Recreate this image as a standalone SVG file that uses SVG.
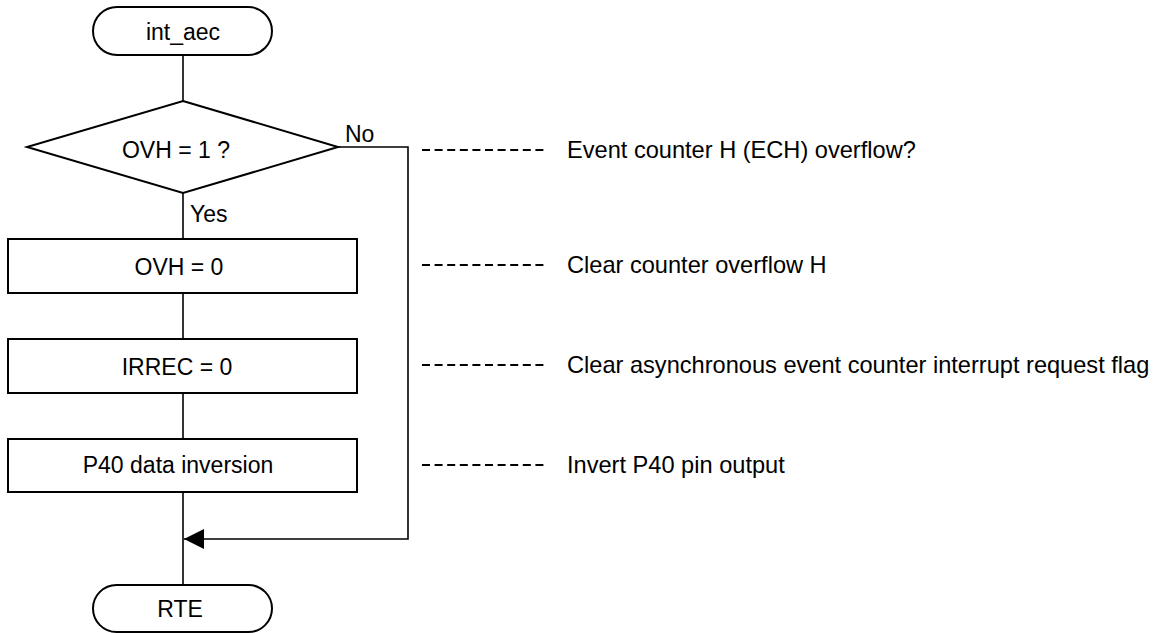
<svg xmlns="http://www.w3.org/2000/svg" width="1165" height="633" viewBox="0 0 1165 633">
<style>
.s{fill:#fff;stroke:#000;stroke-width:2}
.c{fill:none;stroke:#000;stroke-width:1.6}
.d{fill:none;stroke:#000;stroke-width:2;stroke-dasharray:8 4.6}
text{font-family:"Liberation Sans",Arial,sans-serif;font-size:23px;fill:#000}
.m{text-anchor:middle}
.n{font-size:23.6px}
</style>
<defs>
<marker id="ah" markerWidth="20" markerHeight="20" refX="20" refY="10" orient="auto" markerUnits="userSpaceOnUse">
<path d="M0,0 L20,10 L0,20 Z" fill="#000"/>
</marker>
</defs>
<rect width="1165" height="633" fill="#fff"/>
<g id="connectors">
<line class="c" x1="183" y1="55" x2="183" y2="101"/>
<line class="c" x1="183" y1="193" x2="183" y2="239"/>
<line class="c" x1="183" y1="293" x2="183" y2="339"/>
<line class="c" x1="183" y1="393" x2="183" y2="439"/>
<line class="c" x1="183" y1="492" x2="183" y2="585"/>
<polyline class="c" points="338,147 408,147 408,539 184,539" marker-end="url(#ah)"/>
<text x="345" y="142">No</text>
<text x="190" y="222">Yes</text>
</g>
<g id="start">
<rect class="s" x="93" y="7" width="179" height="48" rx="24"/>
<text class="m" x="183" y="40">int_aec</text>
</g>
<g id="decision">
<polygon class="s" points="183,101 338,147 183,193 27,147"/>
<text class="m" x="176" y="158">OVH = 1 ?</text>
</g>
<g id="ovh0">
<rect class="s" x="8" y="239" width="349" height="54"/>
<text class="m" x="179" y="275">OVH = 0</text>
</g>
<g id="irrec0">
<rect class="s" x="8" y="339" width="349" height="54"/>
<text class="m" x="177" y="375">IRREC = 0</text>
</g>
<g id="p40">
<rect class="s" x="8" y="439" width="349" height="53"/>
<text class="m" x="178" y="473">P40 data inversion</text>
</g>
<g id="end">
<rect class="s" x="93" y="585" width="179" height="47" rx="23.5"/>
<text class="m" x="180" y="617">RTE</text>
</g>
<g id="notes">
<line class="d" x1="422" y1="150" x2="547" y2="150"/>
<text class="n" x="567" y="158">Event counter H (ECH) overflow?</text>
<line class="d" x1="422" y1="265" x2="547" y2="265"/>
<text class="n" x="567" y="273">Clear counter overflow H</text>
<line class="d" x1="422" y1="365" x2="547" y2="365"/>
<text class="n" x="567" y="373">Clear asynchronous event counter interrupt request flag</text>
<line class="d" x1="422" y1="465" x2="547" y2="465"/>
<text class="n" x="567" y="473">Invert P40 pin output</text>
</g>
</svg>
